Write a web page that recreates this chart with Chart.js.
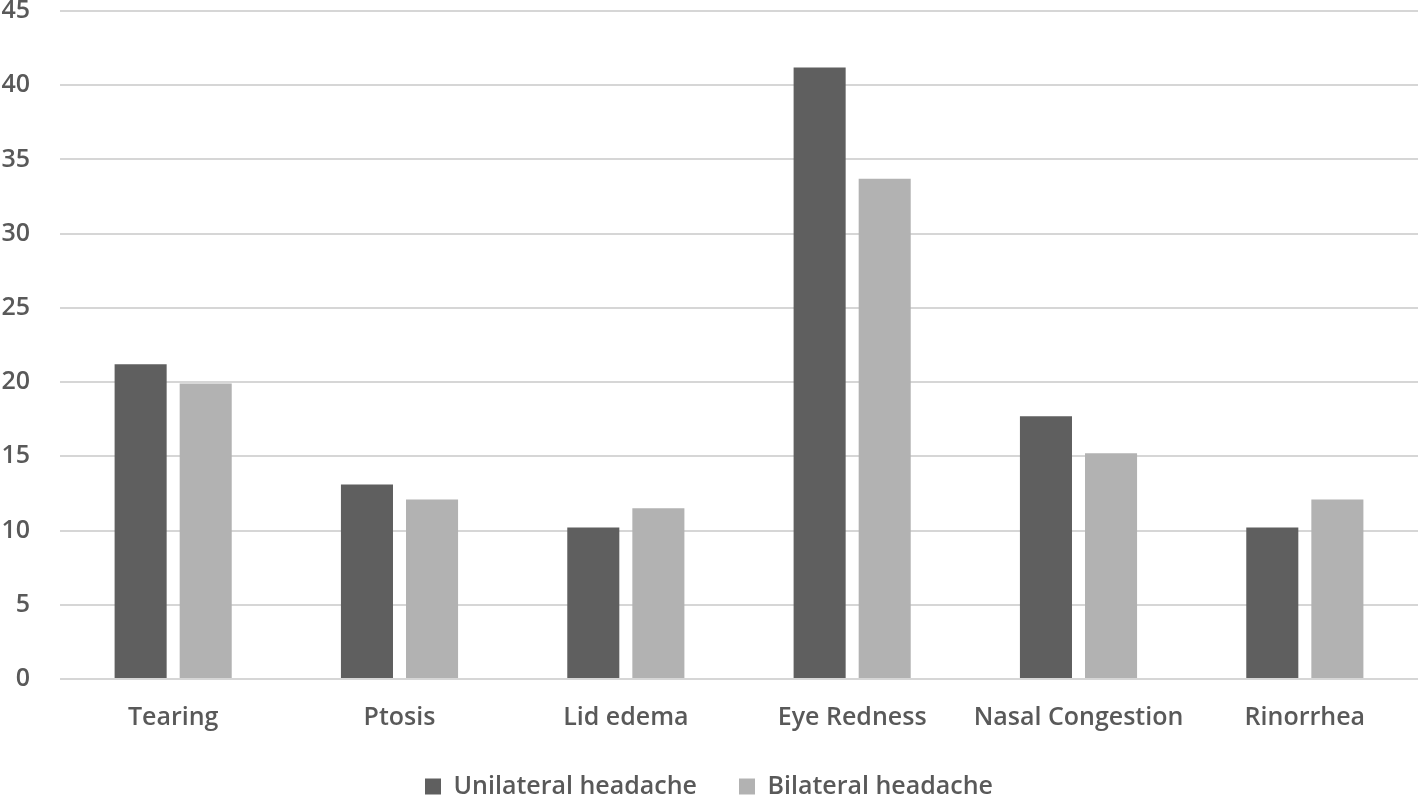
<!DOCTYPE html>
<html>
<head>
<meta charset="utf-8">
<title>Headache symptoms</title>
<script src="https://cdn.jsdelivr.net/npm/chart.js@4/dist/chart.umd.min.js"></script>
<style>
  html, body { margin: 0; padding: 0; background: #fff; }
  #wrap { width: 1424px; height: 796px; position: relative; }
</style>
</head>
<body>
<div id="wrap"><canvas id="chart"></canvas></div>
<script>
// values
const categories = ['Tearing', 'Ptosis', 'Lid edema', 'Eye Redness', 'Nasal Congestion', 'Rinorrhea'];
const unilateral = [21.2, 13.1, 10.2, 41.2, 17.7, 10.2];
const bilateral = [19.9, 12.1, 11.5, 33.7, 15.2, 12.1];
const yTicks = [0, 5, 10, 15, 20, 25, 30, 35, 40, 45];

const textColor = '#595959';
const fontFamily = '"Open Sans", "Noto Sans", sans-serif';
const labelFont = { family: fontFamily, size: 25, weight: '600' };

const ctx = document.getElementById('chart').getContext('2d');
const chart = new Chart(ctx, {
    type: 'bar',
    data: {
        labels: categories,
        datasets: [{
            label: 'Unilateral headache',
            data: unilateral,
            backgroundColor: '#5f5f5f',
            borderWidth: 0,
            categoryPercentage: 0.575,
            barPercentage: 0.8
        }, {
            label: 'Bilateral headache',
            data: bilateral,
            backgroundColor: '#b2b2b2',
            borderWidth: 0,
            categoryPercentage: 0.575,
            barPercentage: 0.8
        }]
    },
    options: {
        responsive: true,
        maintainAspectRatio: false,
        animation: false,
        devicePixelRatio: 1,
        layout: {
            // negative bottom lets the legend sit on the bottom edge like the original
            padding: { top: 11, right: 6, bottom: -13, left: 0 }
        },
        plugins: {
            tooltip: { enabled: false },
            legend: {
                position: 'bottom',
                labels: {
                    color: textColor,
                    font: labelFont,
                    boxWidth: 16,
                    boxHeight: 16,
                    padding: 42
                }
            }
        },
        scales: {
            x: {
                grid: { display: false },
                border: { display: false },
                ticks: {
                    color: textColor,
                    font: labelFont,
                    padding: 16,
                    maxRotation: 0,
                    autoSkip: false
                },
                afterFit(scale) { scale.height = 53; }
            },
            y: {
                min: 0,
                max: 45,
                grid: {
                    color: '#d6d6d6',
                    lineWidth: 2,
                    // invisible tick marks give the gap between labels and grid
                    drawTicks: true,
                    tickLength: 30,
                    tickColor: 'rgba(0,0,0,0)'
                },
                border: { display: false },
                afterBuildTicks(scale) {
                    scale.ticks = yTicks.map(v => ({ value: v }));
                },
                ticks: {
                    color: textColor,
                    font: { family: fontFamily, size: 25, weight: '600', lineHeight: 0.8 },
                    padding: 0
                },
                afterFit(scale) { scale.width = 60; }
            }
        }
    }
});
</script>
</body>
</html>
